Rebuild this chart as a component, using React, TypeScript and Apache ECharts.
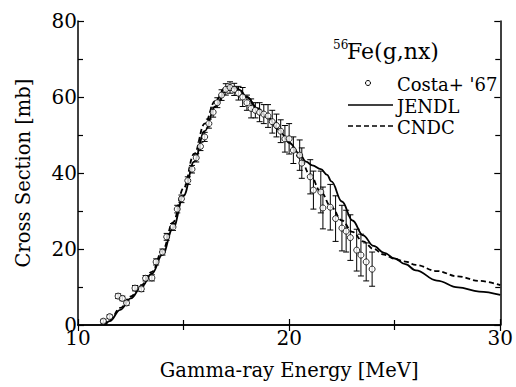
import React, { useEffect, useRef } from "react";
import * as echarts from "echarts";

// Experimental data: Costa+ '67
const expX = [11.2, 11.5, 11.9, 12.1, 12.3, 12.7, 13.0, 13.2, 13.5, 13.7, 14.0, 14.2, 14.5, 14.7, 14.9, 15.2, 15.4, 15.6, 15.8, 16.0, 16.2, 16.4, 16.6, 16.8, 17.0, 17.2, 17.4, 17.6, 17.8, 18.0, 18.2, 18.4, 18.6, 18.8, 19.0, 19.2, 19.4, 19.6, 19.8, 20.0, 20.2, 20.5, 20.6, 21.0, 21.15, 21.5, 21.6, 21.95, 22.2, 22.5, 22.7, 22.9, 23.2, 23.4, 23.65, 23.93];
const expY = [1.0, 2.2, 7.6, 7.0, 5.8, 9.7, 9.5, 12.3, 12.4, 16.6, 19.2, 23.2, 25.8, 30.5, 33.2, 38.0, 41.0, 44.0, 47.0, 49.5, 53.0, 56.0, 58.5, 60.5, 62.0, 62.5, 62.0, 61.0, 60.0, 58.5, 57.0, 56.5, 56.0, 55.5, 55.0, 53.5, 52.5, 51.0, 49.0, 49.0, 46.0, 44.7, 42.6, 39.0, 35.5, 35.0, 30.8, 31.0, 28.0, 25.5, 24.7, 23.0, 19.7, 18.4, 16.6, 14.7];
const expErr = [0.5, 0.5, 0.6, 0.6, 0.6, 0.7, 0.7, 0.7, 0.8, 0.8, 0.8, 0.9, 0.9, 1.0, 1.0, 1.0, 1.0, 1.1, 1.1, 1.2, 1.2, 1.3, 1.3, 1.4, 1.5, 1.5, 1.6, 1.8, 2.5, 2.0, 2.5, 2.0, 2.5, 2.5, 3.0, 3.0, 3.0, 3.0, 3.5, 4.0, 3.5, 4.0, 4.0, 4.5, 5.0, 5.5, 5.5, 6.0, 6.0, 6.0, 5.5, 6.0, 5.5, 5.5, 5.0, 4.5];

// JENDL evaluation
const jendlX = [11.3, 11.5, 12.0, 12.5, 13.0, 13.5, 14.0, 14.5, 15.0, 15.5, 16.0, 16.5, 17.0, 17.3, 17.6, 18.0, 18.5, 19.0, 19.5, 20.0, 20.5, 20.8, 21.1, 21.5, 21.8, 22.0, 22.5, 23.0, 23.5, 24.0, 24.5, 25.0, 25.5, 26.0, 27.0, 28.0, 29.0, 30.0];
const jendlY = [0, 1.0, 4.0, 7.0, 10.0, 13.5, 18.5, 25.5, 34.0, 43.0, 51.0, 57.5, 61.5, 62.5, 62.0, 60.0, 57.0, 54.5, 51.5, 48.0, 45.0, 43.0, 42.0, 41.0, 39.5, 37.8, 32.5, 27.5, 23.6, 20.8, 19.0, 17.5, 16.0, 14.4, 11.7, 9.9, 8.8, 7.9];

// CNDC evaluation
const cndcX = [11.2, 11.5, 12.0, 12.5, 13.0, 13.5, 14.0, 14.5, 15.0, 15.5, 16.0, 16.5, 17.0, 17.3, 17.6, 18.0, 18.5, 19.0, 19.5, 20.0, 20.5, 21.0, 21.5, 22.0, 22.5, 23.0, 23.5, 24.0, 24.5, 25.0, 25.5, 26.0, 27.0, 28.0, 29.0, 30.0];
const cndcY = [0, 1.2, 4.5, 7.5, 10.5, 14.0, 19.5, 27.0, 36.0, 45.0, 53.0, 59.0, 62.5, 63.0, 62.3, 60.0, 57.0, 54.5, 51.5, 48.0, 44.0, 39.5, 35.0, 31.0, 27.5, 24.5, 22.0, 20.0, 18.5, 17.4, 16.7, 15.8, 14.2, 12.8, 11.6, 10.5];

const xTicks = [10, 20, 30];
const yTicks = [0, 20, 40, 60, 80];

const FONT = "DejaVu Serif";

export default function App() {
  const ref = useRef<HTMLDivElement>(null);
  useEffect(() => {
    if (!ref.current) return;
    const chart = echarts.init(ref.current, undefined, { renderer: "svg" });
    const axisLine = { show: true, lineStyle: { color: "#000", width: 1.5 } };
    const axisTick = { show: true, inside: true, length: 6, lineStyle: { color: "#000", width: 1.2 } };
    const minorTick = { show: true, splitNumber: 2, length: 5, lineStyle: { color: "#000", width: 1.2 } };
    const xMin = xTicks[0], xMax = xTicks[xTicks.length - 1];
    const yMin = yTicks[0], yMax = yTicks[yTicks.length - 1];
    const errData = expX.map((x, i) => [x, expY[i] - expErr[i], expY[i] + expErr[i]]);
    chart.setOption({
      animation: false,
      textStyle: { fontFamily: FONT },
      grid: { left: 78, right: 13, top: 21, bottom: 62 },
      xAxis: [
        {
          type: "value", min: xMin, max: xMax, interval: 10, position: "bottom",
          axisLine, axisTick, minorTick, splitLine: { show: false },
          axisLabel: { color: "#000", fontSize: 20, fontFamily: FONT, margin: 3 },
          name: "Gamma-ray Energy [MeV]", nameLocation: "middle", nameGap: 35,
          nameTextStyle: { color: "#000", fontSize: 19.5, fontFamily: FONT },
        },
        {
          type: "value", min: xMin, max: xMax, interval: 10, position: "top",
          axisLine, axisTick, minorTick, splitLine: { show: false },
          axisLabel: { show: false },
        },
      ],
      yAxis: [
        {
          type: "value", min: yMin, max: yMax, interval: 20, position: "left",
          axisLine, axisTick, minorTick, splitLine: { show: false },
          axisLabel: { color: "#000", fontSize: 20, fontFamily: FONT, margin: 1 },
          name: "Cross Section [mb]", nameLocation: "middle", nameGap: 45,
          nameTextStyle: { color: "#000", fontSize: 19.5, fontFamily: FONT },
        },
        {
          type: "value", min: yMin, max: yMax, interval: 20, position: "right",
          axisLine, axisTick, minorTick, splitLine: { show: false },
          axisLabel: { show: false },
        },
      ],
      series: [
        {
          name: "JENDL", type: "line", smooth: 0.4, smoothMonotone: "x", symbol: "none",
          data: jendlX.map((x, i) => [x, jendlY[i]]),
          lineStyle: { color: "#000", width: 1.8 },
        },
        {
          name: "CNDC", type: "line", smooth: 0.4, smoothMonotone: "x", symbol: "none",
          data: cndcX.map((x, i) => [x, cndcY[i]]),
          lineStyle: { color: "#000", width: 1.8, type: [5, 3] },
        },
        {
          name: "Costa+ '67 errors", type: "custom", data: errData,
          renderItem: (params: any, api: any) => {
            const x = api.value(0);
            const lo = api.coord([x, api.value(1)]);
            const hi = api.coord([x, api.value(2)]);
            const st = { stroke: "#000", lineWidth: 1 };
            return {
              type: "group",
              children: [
                { type: "line", shape: { x1: lo[0], y1: lo[1], x2: hi[0], y2: hi[1] }, style: st },
                { type: "line", shape: { x1: lo[0] - 3, y1: lo[1], x2: lo[0] + 3, y2: lo[1] }, style: st },
                { type: "line", shape: { x1: hi[0] - 3, y1: hi[1], x2: hi[0] + 3, y2: hi[1] }, style: st },
              ],
            };
          },
          z: 3,
        },
        {
          name: "Costa+ '67", type: "scatter", symbol: "circle", symbolSize: 6,
          data: expX.map((x, i) => [x, expY[i]]),
          itemStyle: { color: "#fff", borderColor: "#000", borderWidth: 1 },
          z: 4,
        },
      ],
      graphic: [
        { type: "text", x: 333, y: 39, style: { text: "56", fontSize: 12, fontFamily: FONT, fill: "#000" } },
        { type: "text", x: 347, y: 40, style: { text: "Fe(g,nx)", fontSize: 22, fontFamily: FONT, fill: "#000" } },
        { type: "circle", shape: { cx: 368, cy: 83, r: 2.5 }, style: { fill: "#fff", stroke: "#000", lineWidth: 1 } },
        { type: "text", x: 397, y: 84.5, style: { text: "Costa+ '67", fontSize: 18, fontFamily: FONT, fill: "#000", verticalAlign: "middle" } },
        { type: "line", shape: { x1: 348, y1: 105, x2: 393, y2: 105 }, style: { stroke: "#000", lineWidth: 1.5 } },
        { type: "text", x: 397, y: 106, style: { text: "JENDL", fontSize: 18, fontFamily: FONT, fill: "#000", verticalAlign: "middle" } },
        { type: "line", shape: { x1: 348, y1: 126, x2: 393, y2: 126 }, style: { stroke: "#000", lineWidth: 1.5, lineDash: [5, 3] } },
        { type: "text", x: 397, y: 127.5, style: { text: "CNDC", fontSize: 18, fontFamily: FONT, fill: "#000", verticalAlign: "middle" } },
      ],
    });
    return () => chart.dispose();
  }, []);
  return (
    <div
      ref={ref}
      style={{ position: "fixed", left: 0, top: 0, width: 516, height: 387, background: "#fff" }}
    />
  );
}
